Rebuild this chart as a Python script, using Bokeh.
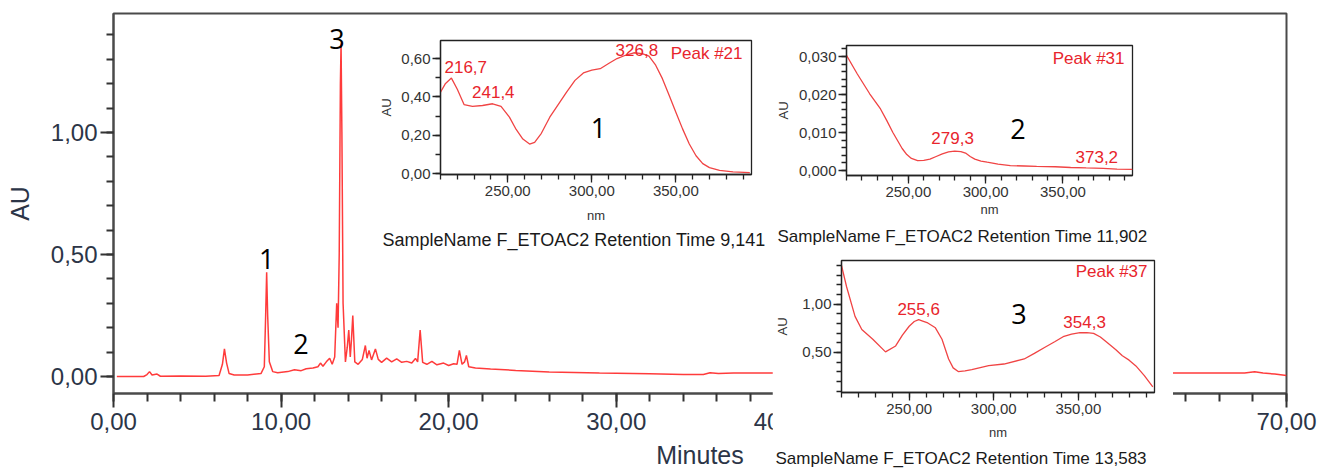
from bokeh.plotting import figure
from bokeh.models import GridBox, Range1d, SingleIntervalTicker, CustomJSTickFormatter
from bokeh.embed import file_html
from bokeh.resources import INLINE
from bokeh.core.properties import value

# ---------------- data ----------------
# main chromatogram (retention time in minutes, absorbance AU)
main_time = [0.2, 1.8, 2.0, 2.15, 2.3, 2.6, 2.8, 4.0, 5.5, 6.3,
             6.5, 6.62, 6.75, 6.9, 7.2, 8.0, 8.8, 9.0, 9.08, 9.14,
             9.2, 9.3, 9.5, 9.8, 10.4, 10.8, 11.2, 11.5, 11.9, 12.2,
             12.35, 12.5, 12.7, 12.9, 13.05, 13.2, 13.32, 13.4, 13.47, 13.54,
             13.58, 13.63, 13.7, 13.84, 13.95, 14.04, 14.13, 14.2, 14.28, 14.4,
             14.6, 14.85, 15.03, 15.13, 15.25, 15.4, 15.63, 15.8, 16.0, 16.3,
             16.6, 16.9, 17.2, 17.5, 17.8, 18.02, 18.15, 18.3, 18.45, 18.7,
             19.0, 19.3, 19.7, 20.0, 20.3, 20.5, 20.64, 20.8, 20.95, 21.06,
             21.2, 21.6, 22.5, 24.0, 26.0, 29.0, 32.0, 34.0, 35.2, 35.6,
             36.1, 37.0, 40.0, 45.0, 50.0, 55.0, 60.0, 63.0, 67.5, 68.1,
             68.6, 69.3, 70.0]
main_au = [0.000, 0.000, 0.008, 0.020, 0.006, 0.010, 0.001, 0.002, 0.001, 0.004,
           0.050, 0.113, 0.055, 0.012, 0.006, 0.006, 0.012, 0.040, 0.250, 0.427,
           0.250, 0.060, 0.020, 0.015, 0.020, 0.028, 0.024, 0.032, 0.035, 0.040,
           0.055, 0.042, 0.060, 0.075, 0.050, 0.080, 0.300, 0.200, 0.500, 1.200,
           1.365, 1.000, 0.300, 0.060, 0.120, 0.190, 0.080, 0.150, 0.250, 0.060,
           0.050, 0.070, 0.127, 0.075, 0.107, 0.068, 0.113, 0.070, 0.058, 0.075,
           0.060, 0.072, 0.058, 0.062, 0.055, 0.074, 0.060, 0.190, 0.058, 0.050,
           0.062, 0.048, 0.055, 0.045, 0.052, 0.050, 0.107, 0.050, 0.060, 0.086,
           0.040, 0.035, 0.031, 0.025, 0.018, 0.014, 0.011, 0.008, 0.008, 0.015,
           0.012, 0.014, 0.014, 0.014, 0.013, 0.013, 0.013, 0.014, 0.014, 0.019,
           0.014, 0.010, 0.004]

main_peak_ids = ["1", "2", "3"]
main_peak_rt = [9.14, 11.90, 13.58]
main_peak_au = [0.427, 0.035, 1.365]

# UV spectrum of peak 1 (Peak #21, RT 9,141)
spec1_nm = [210, 213, 216.5, 220, 224, 229, 235, 241, 246, 251,
            255, 259, 263, 266, 270, 275, 280, 285, 290, 295,
            300, 305, 310, 315, 320, 325, 330, 334, 338, 342,
            346, 350, 354, 358, 362, 366, 370, 376, 384, 394]
spec1_au = [0.425, 0.470, 0.498, 0.440, 0.360, 0.350, 0.355, 0.364, 0.350, 0.294,
            0.230, 0.180, 0.154, 0.163, 0.210, 0.294, 0.360, 0.425, 0.486, 0.525,
            0.539, 0.547, 0.574, 0.600, 0.617, 0.630, 0.626, 0.612, 0.565, 0.495,
            0.408, 0.320, 0.233, 0.154, 0.093, 0.052, 0.031, 0.017, 0.009, 0.005]
spec1_max_nm = [216.7, 241.4, 326.8]
spec1_max_au = [0.498, 0.364, 0.626]

# UV spectrum of peak 2 (Peak #31, RT 11,902)
spec2_nm = [210, 217, 225, 232, 236, 240, 243, 246, 249, 252,
            256, 260, 264, 268, 272, 276, 280, 284, 287, 290,
            293, 297, 301, 308, 316, 325, 333, 345, 355, 365,
            376, 385, 395]
spec2_au = [0.0303, 0.0254, 0.0202, 0.0162, 0.0132, 0.0100, 0.0079, 0.0058, 0.0042, 0.0032,
            0.0026, 0.0027, 0.0030, 0.0037, 0.0044, 0.0049, 0.0051, 0.0050, 0.0046, 0.0037,
            0.0030, 0.0025, 0.0022, 0.0017, 0.0013, 0.0012, 0.0011, 0.0010, 0.0008, 0.0007,
            0.0006, 0.0004, 0.0003]
spec2_max_nm = [279.3, 373.2]
spec2_max_au = [0.0051, 0.0006]

# UV spectrum of peak 3 (Peak #37, RT 13,583)
spec3_nm = [210, 213, 218, 222, 228.5, 236, 242, 246, 250, 253,
            255.6, 258, 261, 265.5, 269.4, 273.3, 276, 279, 283, 287,
            297, 306, 318, 324, 330, 336, 341, 346, 351, 355,
            359, 363, 367, 372, 376, 380, 384, 389, 394]
spec3_au = [1.400, 1.180, 0.873, 0.738, 0.636, 0.506, 0.567, 0.680, 0.771, 0.820,
            0.840, 0.825, 0.805, 0.755, 0.636, 0.432, 0.340, 0.302, 0.310, 0.322,
            0.363, 0.380, 0.432, 0.490, 0.551, 0.610, 0.663, 0.690, 0.704, 0.705,
            0.697, 0.660, 0.602, 0.530, 0.465, 0.420, 0.360, 0.260, 0.143]
spec3_max_nm = [255.6, 354.3]
spec3_max_au = [0.840, 0.705]

# ---------------- styles ----------------
FONT = "Liberation Sans"
NUMFONT = "Open Sans"
TRACE = "#ff2626"
SPEC = "#f04444"
REDTXT = "#e8242c"
AXC = "#2c3547"


def fmt(dec):
    return CustomJSTickFormatter(code="return tick.toFixed(%d).replace('.', ',');" % dec)


def fmt_label(v):
    return ("%.1f" % v).replace(".", ",")


# ---------------- main chromatogram ----------------
main = figure(width=1320, height=471, x_range=Range1d(0, 70), y_range=Range1d(-0.0697, 1.4877),
              output_backend="svg", toolbar_location=None, frame_align=False,
              min_border_left=113, min_border_right=34, min_border_top=13, min_border_bottom=78,
              x_axis_label="Minutes", y_axis_label="AU")
main.xgrid.visible = False
main.ygrid.visible = False
main.background_fill_color = "white"
main.border_fill_color = "white"
main.outline_line_color = "#4a4a4a"
main.outline_line_width = 2
main.outline_line_alpha = 1
main.xaxis.ticker = SingleIntervalTicker(interval=10, num_minor_ticks=5)
main.yaxis.ticker = SingleIntervalTicker(interval=0.5, num_minor_ticks=5)
main.xaxis.formatter = fmt(2)
main.yaxis.formatter = fmt(2)
for ax in main.axis:
    ax.axis_line_color = "#4a4a4a"
    ax.axis_line_width = 2
    ax.major_tick_line_color = "#333333"
    ax.minor_tick_line_color = "#333333"
    ax.major_tick_line_width = 2
    ax.minor_tick_line_width = 2
    ax.major_tick_in = 0
    ax.minor_tick_in = 0
    ax.major_label_text_font = FONT
    ax.major_label_text_font_size = "24px"
    ax.major_label_text_color = AXC
    ax.axis_label_text_font = FONT
    ax.axis_label_text_font_size = "25px"
    ax.axis_label_text_font_style = "normal"
    ax.axis_label_text_color = AXC
main.xaxis.major_tick_out = 14
main.xaxis.minor_tick_out = 8
main.xaxis.major_label_standoff = 5
main.xaxis.axis_label_standoff = 8
main.yaxis.major_tick_out = 13
main.yaxis.minor_tick_out = 7
main.yaxis.major_label_standoff = 3
main.yaxis.axis_label_standoff = 14

main.line(main_time, main_au, line_color=TRACE, line_width=1.5, line_alpha=0.9)
main.text(x=main_peak_rt, y=main_peak_au, text=main_peak_ids,
          x_offset=[0, -12, -4], y_offset=[-13, -24, -4],
          text_align="center", text_baseline="alphabetic",
          text_font=value(NUMFONT), text_font_size="27px", text_color="black")


# ---------------- inset spectra ----------------
def inset(w, h, bl, br, bt, bb, yr, yint, ydec, caption, cap_off, cap_size, cap_standoff,
          nm_standoff, ylab_standoff):
    f = figure(width=w, height=h, x_range=Range1d(210, 395), y_range=Range1d(*yr),
               output_backend="svg", toolbar_location=None, frame_align=False,
               min_border_left=bl, min_border_right=br, min_border_top=bt, min_border_bottom=bb,
               x_axis_label="nm", y_axis_label="AU", title=caption, title_location="below")
    f.xgrid.visible = False
    f.ygrid.visible = False
    f.background_fill_color = "white"
    f.border_fill_color = "white"
    f.outline_line_color = "#222222"
    f.outline_line_width = 1.3
    f.outline_line_alpha = 1
    f.xaxis.ticker = SingleIntervalTicker(interval=50, num_minor_ticks=5)
    f.yaxis.ticker = SingleIntervalTicker(interval=yint, num_minor_ticks=(2 if yint == 0.2 else 5))
    f.xaxis.formatter = fmt(2)
    f.yaxis.formatter = fmt(ydec)
    for ax in f.axis:
        ax.axis_line_color = "#222222"
        ax.axis_line_width = 1.3
        ax.major_tick_line_color = "#222222"
        ax.minor_tick_line_color = "#222222"
        ax.major_tick_line_width = 1.3
        ax.minor_tick_line_width = 1.3
        ax.major_tick_in = 0
        ax.minor_tick_in = 0
        ax.major_tick_out = 8
        ax.minor_tick_out = 5
        ax.major_label_text_font = FONT
        ax.major_label_text_font_size = "15px"
        ax.major_label_text_color = "#333333"
        ax.axis_label_text_font = FONT
        ax.axis_label_text_font_size = "13px"
        ax.axis_label_text_font_style = "normal"
        ax.axis_label_text_color = "#333333"
    f.xaxis.major_label_standoff = 3
    f.xaxis.axis_label_standoff = nm_standoff
    f.yaxis.major_label_standoff = 2
    f.yaxis.axis_label_standoff = ylab_standoff
    f.title.text_font = FONT
    f.title.text_font_size = cap_size
    f.title.text_font_style = "normal"
    f.title.text_color = "#1a1a1a"
    f.title.align = "left"
    f.title.vertical_align = "bottom"
    f.title.offset = cap_off
    f.title.standoff = cap_standoff
    return f


ins1 = inset(399, 227, 68, 20, 12, 81, (-0.005, 0.694), 0.2, 2,
             "SampleName F_ETOAC2 Retention Time 9,141", -58, "18px", 4, 9, 4)
ins1.line(spec1_nm, spec1_au, line_color=SPEC, line_width=1.3)
ins1.text(x=spec1_max_nm, y=spec1_max_au, text=[fmt_label(v) for v in spec1_max_nm],
          x_offset=[14, 0, 0], y_offset=[-11, -12, -4],
          text_align="center", text_baseline="alphabetic",
          text_font=value(FONT), text_font_size="17px", text_color=REDTXT)
ins1.text(x=[395], y=[0.694], text=["Peak #21"], x_offset=-9, y_offset=3,
          text_align="right", text_baseline="top",
          text_font=value(FONT), text_font_size="17px", text_color=REDTXT)
ins1.text(x=[304], y=[0.24], text=["1"], text_align="center", text_baseline="middle",
          text_font=value(NUMFONT), text_font_size="27px", text_color="black")

ins2 = inset(401, 220, 75, 40, 15, 75, (-0.0013, 0.0329), 0.01, 3,
             "SampleName F_ETOAC2 Retention Time 11,902", -69, "17px", 10, 2, 5)
ins2.line(spec2_nm, spec2_au, line_color=SPEC, line_width=1.3)
ins2.text(x=spec2_max_nm, y=spec2_max_au, text=[fmt_label(v) for v in spec2_max_nm],
          x_offset=[-1, -2], y_offset=[-13, -11],
          text_align="center", text_baseline="alphabetic",
          text_font=value(FONT), text_font_size="17px", text_color=REDTXT)
ins2.text(x=[395], y=[0.0329], text=["Peak #31"], x_offset=-8, y_offset=3,
          text_align="right", text_baseline="top",
          text_font=value(FONT), text_font_size="17px", text_color=REDTXT)
ins2.text(x=[320.9], y=[0.011], text=["2"], text_align="center", text_baseline="middle",
          text_font=value(NUMFONT), text_font_size="27px", text_color="black")

ins3 = inset(401, 221, 66, 19, 10, 77, (0.085, 1.452), 0.5, 2,
             "SampleName F_ETOAC2 Retention Time 13,583", -66, "17px", 8, 8, 9)
ins3.line(spec3_nm, spec3_au, line_color=SPEC, line_width=1.3)
ins3.text(x=spec3_max_nm, y=spec3_max_au, text=[fmt_label(v) for v in spec3_max_nm],
          x_offset=[0, -1], y_offset=[-11, -11],
          text_align="center", text_baseline="alphabetic",
          text_font=value(FONT), text_font_size="17px", text_color=REDTXT)
ins3.text(x=[395], y=[1.452], text=["Peak #37"], x_offset=-7, y_offset=1,
          text_align="right", text_baseline="top",
          text_font=value(FONT), text_font_size="17px", text_color=REDTXT)
ins3.text(x=[314.9], y=[0.90], text=["3"], text_align="center", text_baseline="middle",
          text_font=value(NUMFONT), text_font_size="27px", text_color="black")

# grid tracks: columns end at 372, 771, 772, 1172, 1173, 1320; rows end at 28, 30, 250, 255, 471
grid = GridBox(children=[(main, 0, 0, 5, 6), (ins1, 1, 1, 3, 1), (ins2, 2, 2, 1, 2), (ins3, 3, 3, 2, 2)],
               rows=["28px", "2px", "220px", "5px", "216px"],
               cols=["372px", "399px", "1px", "400px", "1px", "147px"], spacing=0)

open("out.html", "w").write(file_html(grid, INLINE))
